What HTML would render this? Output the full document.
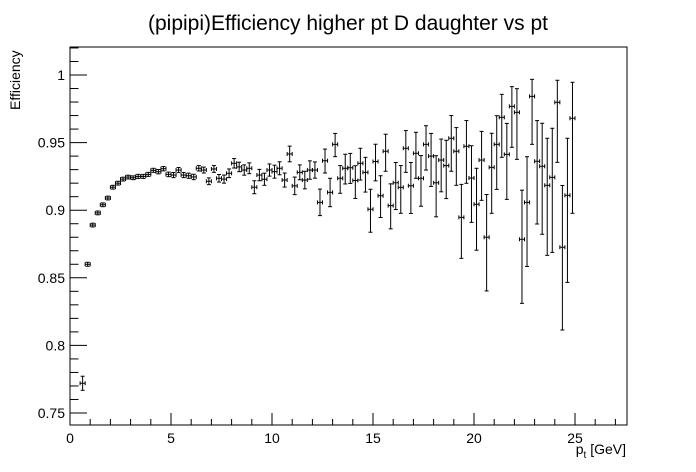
<!DOCTYPE html>
<html><head><meta charset="utf-8"><style>
body{margin:0;background:#fff}
svg{display:block;font-family:"Liberation Sans",Arial,sans-serif}
</style></head><body>
<svg id="c" width="696" height="472">
<rect width="696" height="472" fill="#fff"/>
<text x="348" y="30" font-size="21" text-anchor="middle">(pipipi)Efficiency higher pt D daughter vs pt</text>
<rect x="70" y="47" width="557" height="378" fill="none" stroke="#000" stroke-width="1"/>
<text transform="translate(20,110) rotate(-90)" font-size="14">Efficiency</text>
<text x="626" y="454" font-size="14" text-anchor="end">p<tspan font-size="10" dy="4">t</tspan><tspan dy="-4"> [GeV]</tspan></text>
<g id="axes"></g>
<g id="marks"></g>
</svg>
<script>
const yVals=[.772,.860,.889,.898,.904,.909,.917,.920,.923,.9245,.924,.925,.925,.9265,.9295,.9285,.9307,.9265,.926,.9297,.926,.9255,.9246,.931,
.9297,.9214,.9305,.9236,.923,.9273,.9347,.932,.9297,.931,.917,.926,.9229,.9297,.9285,.931,.9223,.9416,.918,.928,.9223,.9297,.9297,.9058,.9366,
.9132,.9487,.9236,.931,.9314,.922,.9347,.928,.9007,.936,.9107,.9436,.9034,.9203,.9169,.9458,.9181,.9421,.9236,.9487,.940,.9203,.9371,.933,
.9532,.9436,.8947,.9473,.9238,.9044,.9371,.880,.9317,.9487,.9687,.9413,.9768,.9724,.8785,.9058,.9842,.9362,.9325,.9184,.9243,.9798,.8726,.911,.968];
const yErrUp=[.0052,.0015,.0014,.0014,.0014,.0014,.0014,.0014,.0014,.0014,.0014,.0015,.0015,.0015,.0015,.0016,.0016,.0017,.0019,.0019,.0019,.0019,.002,.002,
.0022,.0025,.0025,.0028,.003,.0032,.0035,.0035,.0038,.004,.0048,.0042,.0045,.0045,.0048,.0048,.0052,.0058,.0065,.0055,.0065,.0068,.006,.0098,.0086,
.0104,.0081,.0094,.0104,.0106,.0109,.0111,.0111,.0148,.0128,.0148,.0126,.0161,.0150,.0161,.0131,.0172,.0155,.0168,.0138,.0168,.0200,.0155,.0187,
.0168,.0175,.0244,.0190,.0239,.0266,.0212,.0316,.0252,.0212,.0170,.0229,.0146,.0175,.0363,.0338,.0126,.0301,.0318,.0348,.0363,.0163,.0457,.0422,.0266];
const yErrLow=[.0052,.0015,.0014,.0014,.0014,.0014,.0014,.0014,.0014,.0014,.0014,.0015,.0015,.0015,.0015,.0016,.0016,.0017,.0019,.0019,.0019,.0019,.002,.002,
.0022,.0025,.0025,.0028,.003,.0032,.0035,.0035,.0038,.004,.0048,.0042,.0045,.0045,.0048,.0048,.0052,.0058,.0065,.0055,.0065,.0068,.006,.0098,.0091,
.0106,.0091,.0111,.0116,.0116,.0133,.0124,.0146,.0170,.0143,.0161,.0148,.0172,.0198,.0192,.0178,.0205,.0185,.0207,.0190,.0224,.0252,.0235,.0244,
.0244,.0252,.0303,.0274,.0328,.0340,.0298,.0397,.0340,.0333,.0296,.0333,.0303,.0348,.0474,.0474,.0355,.0464,.0503,.0518,.0555,.0444,.0612,.0644,.0703];
const binStart=0.5, binWidth=0.25;
const xTickLabels=["0","5","10","15","20","25"];
const yTickLabels=["0.75","0.8","0.85","0.9","0.95","1"];
const NS="http://www.w3.org/2000/svg";
const X0=70,X1=627,Y0=425,Y1=47,XMAX=(627-70)/20.2,YMIN=1-(425-75)/1352,YMAX=1+(75-47)/1352;
function sx(v){return X0+(v-0)/(XMAX-0)*(X1-X0);}
function sy(v){return Y0-(v-YMIN)/(YMAX-YMIN)*(Y0-Y1);}
function mk(tag,attrs,parent){const e=document.createElementNS(NS,tag);for(const k in attrs)e.setAttribute(k,attrs[k]);parent.appendChild(e);return e;}
const ax=document.getElementById('axes'),mg=document.getElementById('marks');
for(let v=0;v<=27;v++){const major=v%5===0;const x=sx(v);
const t=mk('line',{x1:x,x2:x,y1:Y0,y2:Y0-(major?12:6),stroke:'#000'},ax);

}
xTickLabels.forEach(l=>{const t=mk('text',{x:sx(+l),y:Y0+18,'font-size':14,'text-anchor':'middle'},ax);t.textContent=l;

});
for(let i=75;i<=102;i++){const v=i/100;if(v<YMIN||v>YMAX)continue;const major=i%5===0;const y=sy(v);
const t=mk('line',{x1:X0,x2:X0+(major?17:8.5),y1:y,y2:y,stroke:'#000'},ax);

}
yTickLabels.forEach(l=>{const t=mk('text',{x:65,y:sy(+l)+5,'font-size':14,'text-anchor':'end'},ax);t.textContent=l;

});
yVals.forEach((v,i)=>{const lo=binStart+i*binWidth,hi=lo+binWidth,c=lo+binWidth/2;
const g=mk('g',{stroke:'#000','stroke-width':1,fill:'none'},mg);


const x=sx(c),y=sy(v),xa=sx(lo),xb=sx(hi),ya=sy(v+yErrUp[i]),yb=sy(v-yErrLow[i]);
mk('line',{x1:xa,x2:xb,y1:y,y2:y},g);
mk('line',{x1:xa,x2:xa,y1:y-2,y2:y+2},g);
mk('line',{x1:xb,x2:xb,y1:y-2,y2:y+2},g);
mk('line',{x1:x,x2:x,y1:ya,y2:yb},g);
mk('line',{x1:x-2,x2:x+2,y1:ya,y2:ya},g);
mk('line',{x1:x-2,x2:x+2,y1:yb,y2:yb},g);});
</script>
</body></html>
